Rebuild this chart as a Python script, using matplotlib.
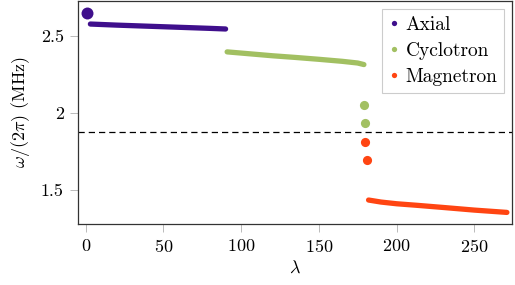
import matplotlib.pyplot as plt
from matplotlib.lines import Line2D
from matplotlib.ticker import FuncFormatter

plt.rcParams['font.family'] = 'cmr10'
plt.rcParams['mathtext.fontset'] = 'cm'
plt.rcParams['axes.formatter.use_mathtext'] = True

# mode frequencies
axial_dot_x = [1]
axial_dot_y = [2.645]
axial_x = [3, 20, 40, 60, 80, 90]
axial_y = [2.575, 2.568, 2.561, 2.554, 2.547, 2.543]

cyc_x = [91, 105, 120, 135, 150, 165, 175, 179]
cyc_y = [2.395, 2.383, 2.370, 2.359, 2.347, 2.334, 2.323, 2.313]
cyc_dot_x = [178.8, 179.7]
cyc_dot_y = [2.052, 1.933]

mag_dot_x = [179.7, 180.8]
mag_dot_y = [1.814, 1.696]
mag_x = [182, 190, 200, 213, 230, 250, 271]
mag_y = [1.437, 1.424, 1.413, 1.403, 1.389, 1.372, 1.357]

threshold = 1.877

c_axial = '#3f0f8c'
c_cyc = '#a2c062'
c_mag = '#ff4512'

fig = plt.figure(figsize=(5.15, 2.85), dpi=100)
ax = fig.add_axes([0.1509, 0.214, 0.8433, 0.7825])

ax.plot(axial_x, axial_y, color=c_axial, lw=3.8, solid_capstyle='round')
ax.plot(axial_dot_x, axial_dot_y, 'o', color=c_axial, ms=8.6, mew=0)
ax.plot(cyc_x, cyc_y, color=c_cyc, lw=3.8, solid_capstyle='round')
ax.plot(cyc_dot_x, cyc_dot_y, 'o', color=c_cyc, ms=6.6, mew=0)
ax.plot(mag_x, mag_y, color=c_mag, lw=3.8, solid_capstyle='round')
ax.plot(mag_dot_x, mag_dot_y, 'o', color=c_mag, ms=6.6, mew=0)
ax.axhline(threshold, color='black', lw=0.9, dashes=(5, 3.2))

ax.set_xlim(-5.15, 274.3)
ax.set_ylim(1.282, 2.724)
ax.set_xticks([0, 50, 100, 150, 200, 250])
ax.set_yticks([1.5, 2, 2.5])
ax.yaxis.set_major_formatter(FuncFormatter(lambda v, p: f'{v:g}'))
ax.tick_params(direction='out', length=6, width=0.6, color='#b0b0b0',
               labelsize=13, pad=4)
for s in ax.spines.values():
    s.set_linewidth(0.9)
    s.set_color('#333333')

ax.set_xlabel(r'$\lambda$', fontsize=13, labelpad=3)
ax.set_ylabel(r'$\omega/(2\pi)$ (MHz)', fontsize=13, labelpad=6)

handles = [Line2D([], [], ls='', marker='o', ms=3.8, color=c, mew=0)
           for c in (c_axial, c_cyc, c_mag)]
leg = ax.legend(handles, ['Axial', 'Cyclotron', 'Magnetron'], loc='upper right',
                fontsize=14, handlelength=0.5, handletextpad=0.35,
                borderpad=0.35, labelspacing=0.42, fancybox=False,
                framealpha=1, borderaxespad=0.4)
leg.get_frame().set_edgecolor('#cccccc')
leg.get_frame().set_linewidth(0.8)

fig.savefig('out.png', dpi=100)
